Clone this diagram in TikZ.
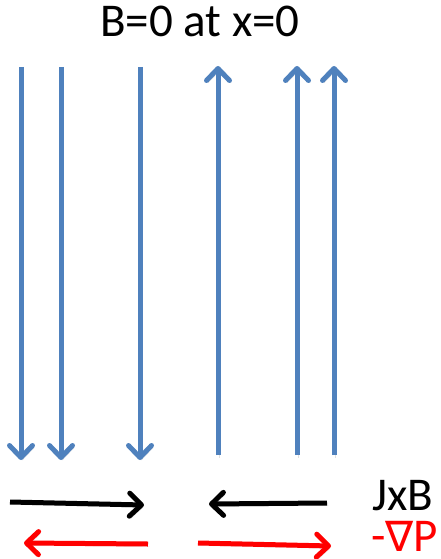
\documentclass[tikz,border=0pt]{standalone}
\usepackage{fontspec}
\setmainfont{Carlito}
\newfontfamily\symfont{DejaVu Sans}
\usetikzlibrary{arrows.meta}
\definecolor{fieldblue}{HTML}{4F81BD}
\definecolor{forcered}{HTML}{FF0000}
\begin{document}
\begin{tikzpicture}[x=1pt,y=-1pt,
  barbarrow/.style={line width=5pt, -{Straight Barb[length=12pt,width=23pt,round]},
    preaction={draw=black!40, opacity=0.3, transform canvas={shift={(1.5pt,-2.5pt)}}}},
  fieldline/.style={barbarrow, draw=fieldblue},
  jxbline/.style={barbarrow, draw=black},
  gradline/.style={barbarrow, draw=forcered},
  lbl/.style={inner sep=0pt, font=\fontsize{47}{50}\selectfont}
]
\useasboundingbox (0,0) rectangle (441,559);
% title
\node[lbl, anchor=base] (title) at (200,37) {B=0 at x=0};
% downward field lines
\coordinate (d1s) at (21,67);  \coordinate (d1e) at (21,460);
\coordinate (d2s) at (61,67);  \coordinate (d2e) at (61,460);
\coordinate (d3s) at (140,67); \coordinate (d3e) at (140,460);
% upward field lines
\coordinate (u1s) at (218,455); \coordinate (u1e) at (218,66);
\coordinate (u2s) at (297,455); \coordinate (u2e) at (297,66);
\coordinate (u3s) at (334,455); \coordinate (u3e) at (334,66);
\foreach \n in {d1,d2,d3,u1,u2,u3} \draw[fieldline] (\n s) -- (\n e);
% JxB arrows
\coordinate (j1s) at (10,502);  \coordinate (j1e) at (144,505);
\coordinate (j2s) at (327,503); \coordinate (j2e) at (209,504);
\draw[jxbline] (j1s) -- (j1e);
\draw[jxbline] (j2s) -- (j2e);
% -grad P arrows
\coordinate (p1s) at (148,544); \coordinate (p1e) at (24,543);
\coordinate (p2s) at (198,543); \coordinate (p2e) at (331,546);
\draw[gradline] (p1s) -- (p1e);
\draw[gradline] (p2s) -- (p2e);
% labels
\node[lbl, anchor=base west] (jxb) at (372,510) {JxB};
\node[lbl, anchor=base west, text=forcered] (gradp) at (371,551) {-{\symfont\fontsize{42}{44}\selectfont ∇}P};
\end{tikzpicture}
\end{document}
